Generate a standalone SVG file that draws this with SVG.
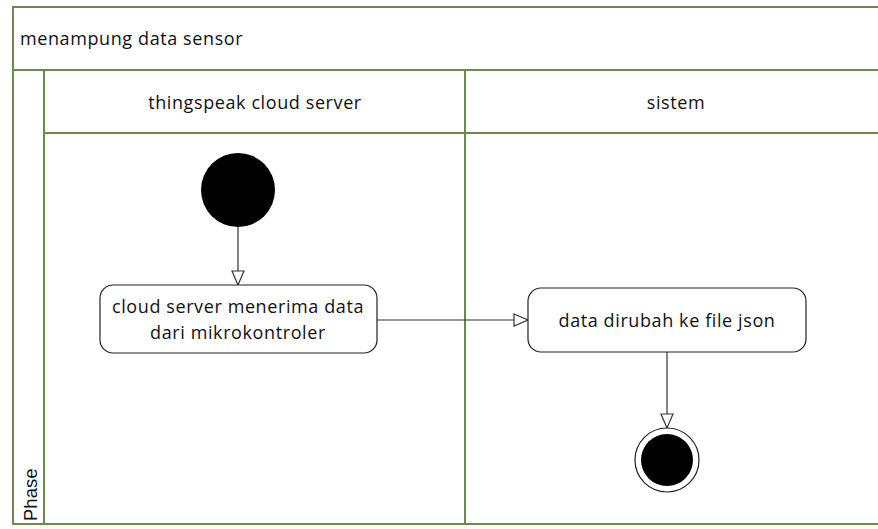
<svg xmlns="http://www.w3.org/2000/svg" width="878" height="529" viewBox="0 0 878 529">
<defs>
<style>
.lane{fill:none;stroke:#6b8a52;stroke-width:2}
.t{font-family:"Open Sans","Liberation Sans",sans-serif;font-size:18px;letter-spacing:0.6px;fill:#111}
.box{fill:#fff;stroke:#222;stroke-width:1.2}
.edge{fill:none;stroke:#333;stroke-width:1.2}
</style>
<marker id="ah" markerWidth="16" markerHeight="14" refX="15" refY="7" orient="auto" markerUnits="userSpaceOnUse">
<path d="M1,1 L15,7 L1,13 Z" fill="#fff" stroke="#333" stroke-width="1.2"/>
</marker>
</defs>
<rect width="878" height="529" fill="#fff"/>
<g id="pool">
<path class="lane" d="M880,7 H13 V524 H880"/>
<path class="lane" d="M13,70 H880"/>
<path class="lane" d="M44,70 V524"/>
<path class="lane" d="M44,133 H880"/>
<path class="lane" d="M465,70 V524"/>
<text class="t" x="20" y="45">menampung data sensor</text>
<text x="37" y="521" transform="rotate(-90 37 521)" font-family="Liberation Sans,Arial,sans-serif" font-size="18.5" fill="#111">Phase</text>
</g>
<g id="lane-thingspeak"><text class="t" x="255" y="109" text-anchor="middle">thingspeak cloud server</text></g>
<g id="lane-sistem"><text class="t" x="676" y="109" text-anchor="middle">sistem</text></g>
<g id="connectors">
<path class="edge" d="M238,227 V285" marker-end="url(#ah)"/>
<path class="edge" d="M377,320 H528" marker-end="url(#ah)"/>
<path class="edge" d="M667,352 V428" marker-end="url(#ah)"/>
</g>
<g id="start"><circle cx="238" cy="190" r="37" fill="#000"/></g>
<g id="a1">
<rect class="box" x="100" y="285" width="277" height="68" rx="13"/>
<text class="t" x="238" y="313" text-anchor="middle">cloud server menerima data</text>
<text class="t" x="238" y="339" text-anchor="middle">dari mikrokontroler</text>
</g>
<g id="a2">
<rect class="box" x="528" y="288" width="278" height="64" rx="13"/>
<text class="t" x="667" y="327" text-anchor="middle">data dirubah ke file json</text>
</g>
<g id="end">
<circle cx="667" cy="460" r="32" fill="#fff" stroke="#222" stroke-width="1.2"/>
<circle cx="667" cy="460" r="26" fill="#000"/>
</g>
</svg>
